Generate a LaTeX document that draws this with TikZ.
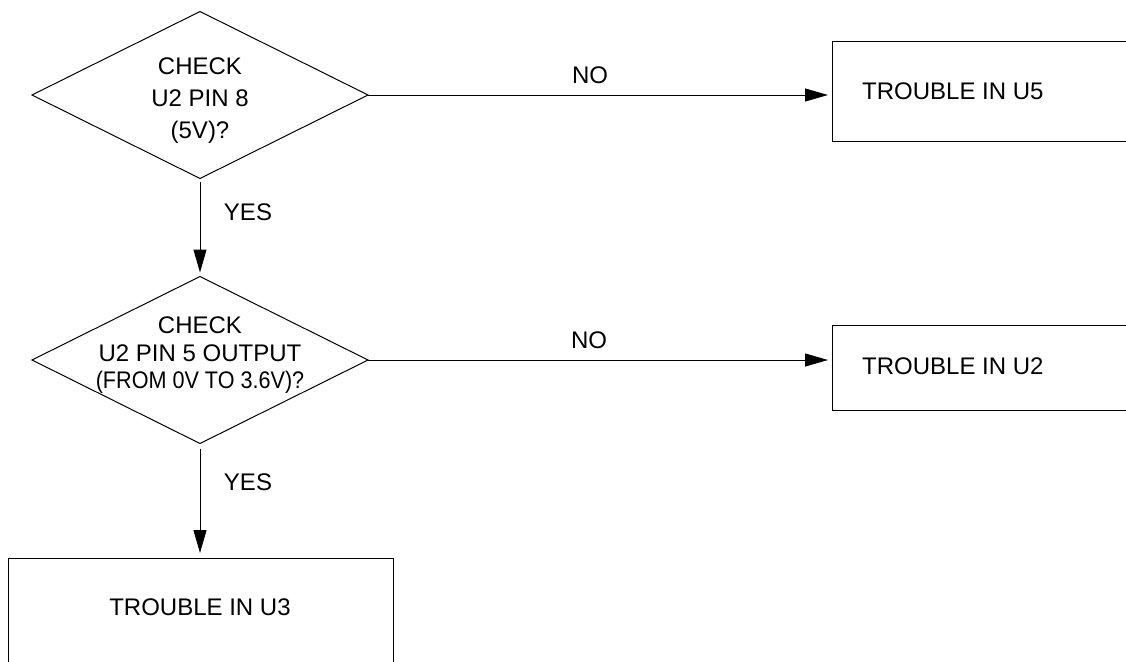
\documentclass[tikz,border=0pt]{standalone}
\usepackage{fontspec}
\setmainfont{Liberation Sans}
\usetikzlibrary{shapes.geometric,arrows.meta,calc}
\tikzset{
  decision/.style={diamond,draw,line width=1pt,inner sep=0pt,outer sep=0pt,minimum width=336pt,minimum height=167pt},
  dtext/.style={inner sep=0pt,align=center,anchor=north},
  resultbox/.style={draw,line width=1pt,outer sep=0pt},
  lbl/.style={inner sep=0pt,font=\fontsize{24}{28}\selectfont},
  flow/.style={line width=1pt,-{Triangle[length=23pt,width=13pt]}}
}
\begin{document}
\begin{tikzpicture}[x=1pt,y=-1pt]
\useasboundingbox (0,0) rectangle (1126,661);
\clip (0,0) rectangle (1126,661);
\fill[white] (0,0) rectangle (1126,661);
% decisions
\node[decision] (d1) at (200,95) {};
\node[dtext,font=\fontsize{24}{32}\selectfont] (d1t) at (200,58) {CHECK\\U2 PIN 8\\(5V)?};
\node[decision] (d2) at (200,360) {};
\node[dtext,font=\fontsize{24}{27.5}\selectfont] (d2t) at (200,317) {CHECK\\U2 PIN 5 OUTPUT\\\scalebox{0.9}[1]{(FROM 0V TO 3.6V)?}};
% results
\node[resultbox,anchor=north west,minimum width=420pt,minimum height=99pt] (u5) at (832,42) {};
\node[lbl,anchor=west] (u5t) at (862,91) {TROUBLE IN U5};
\node[resultbox,anchor=north west,minimum width=420pt,minimum height=85pt] (u2) at (832,325) {};
\node[lbl,anchor=west] (u2t) at (862,366) {TROUBLE IN U2};
\node[resultbox,anchor=north west,minimum width=385pt,minimum height=150pt] (u3) at (8,558) {};
\node[lbl] (u3t) at (200,607) {TROUBLE IN U3};
% connectors
\draw[flow,shorten <=3pt,shorten >=4pt] (d1.south) -- (d2.north);
\draw[flow,shorten <=5pt,shorten >=5pt] (d2.south) -- (d2.south |- u3.north);
\draw[flow,shorten >=4pt] (d1.east) -- (d1.east -| u5.west);
\draw[flow,shorten >=4pt] (d2.east) -- (d2.east -| u2.west);
% labels
\node[lbl] (no1) at (590,75) {NO};
\node[lbl] (no2) at (589,340) {NO};
\node[lbl] (yes1) at (248,212) {YES};
\node[lbl] (yes2) at (248,482) {YES};
\end{tikzpicture}
\end{document}
